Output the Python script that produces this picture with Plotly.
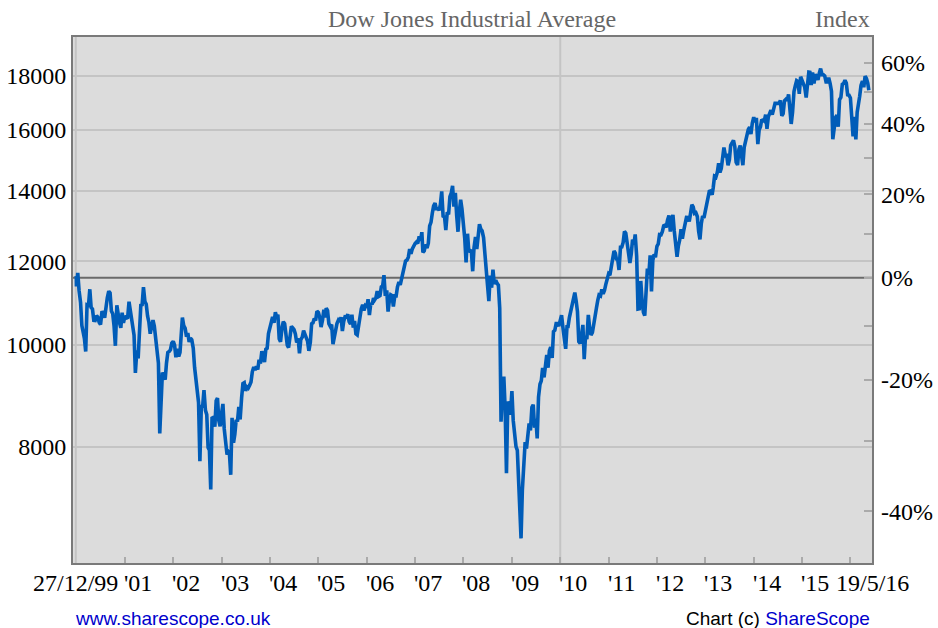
import math
import plotly.graph_objects as go

# ---------------- data ----------------
START = "1999-12-27"
END = "2016-05-19"
BASE = 11575  # value the right-hand % scale is measured from

pre_dates = ["1999-12-27", "1999-12-31"]
pre_values = [11575, 11600]

DAYS = [1, 11, 21]  # three readings per month

dj_2000 = [11357, 11700, 11251, 10970, 10425, 10305, 10137, 9850, 10907, 10894, 11287, 10844,
           10811, 10545, 10542, 10652, 10614, 10497, 10447, 10727, 10733, 10606, 10908, 11079,
           11238, 11195, 10765, 10700, 10413, 9975, 10899, 10602, 10494, 10373, 10725, 10487]
dj_2001 = [10646, 10610, 10587, 10983, 10781, 10526, 10450, 10208, 9400, 9878, 9703, 10579,
           10898, 10910, 11337, 10990, 10922, 10647, 10502, 10241, 10424, 10551, 10416, 10174,
           9950, 9606, 8236, 8848, 9410, 9340, 9263, 9608, 9830, 9851, 9890, 10035]
dj_2002 = [10073, 9987, 9730, 9907, 9744, 9834, 10368, 10611, 10427, 10362, 10176, 10257,
           10059, 10141, 10105, 9925, 9517, 9253, 9007, 8813, 7750, 8736, 8743, 9053,
           8663, 8582, 7986, 7938, 7286, 8538, 8517, 8358, 8845, 8896, 8473, 8364]
dj_2003 = [8607, 8785, 8318, 8053, 7864, 7914, 7891, 7524, 8521, 8069, 8221, 8485,
           8454, 8726, 8491, 8897, 9183, 9200, 9040, 9119, 9096, 9153, 9217, 9423,
           9523, 9459, 9535, 9469, 9674, 9598, 9858, 9738, 9629, 9899, 9921, 10245]
dj_2004 = [10409, 10485, 10623, 10488, 10737, 10619, 10678, 10128, 10064, 10373, 10515, 10472,
           10225, 9990, 9937, 10202, 10410, 10372, 10334, 10238, 10046, 10139, 9814, 10110,
           10168, 10313, 10244, 10192, 10077, 9866, 10054, 10469, 10489, 10590, 10543, 10759]
dj_2005 = [10729, 10617, 10392, 10551, 10796, 10611, 10830, 10774, 10470, 10404, 10448, 10012,
           10192, 10281, 10471, 10549, 10512, 10619, 10303, 10519, 10627, 10623, 10685, 10519,
           10459, 10678, 10378, 10535, 10238, 10215, 10406, 10686, 10821, 10912, 10778, 10883]
dj_2006 = [10847, 11043, 10668, 10953, 10919, 11069, 11025, 11076, 11240, 11109, 11129, 11347,
           11367, 11640, 11128, 11260, 10750, 11020, 11150, 11130, 10869, 11125, 11124, 11345,
           11464, 11397, 11533, 11679, 11858, 12002, 12031, 12108, 12321, 12194, 12328, 12421]
dj_2007 = [12474, 12514, 12477, 12673, 12552, 12786, 12234, 12276, 12447, 12354, 12484, 12961,
           13063, 13327, 13542, 13628, 13424, 13489, 13409, 13577, 13980, 13212, 13240, 12845,
           13358, 13291, 13820, 13930, 14150, 13522, 13931, 13266, 12799, 13371, 13727, 13450]
dj_2008 = [13044, 12606, 11971, 12743, 12240, 12284, 12266, 11740, 12361, 12654, 12325, 12825,
           13010, 12876, 12825, 12638, 12084, 11843, 11382, 11000, 11632, 11326, 11782, 11417,
           11516, 11434, 11388, 10831, 8451, 9033, 9325, 8693, 7552, 8829, 8761, 8579]
dj_2009 = [9034, 8474, 8228, 8001, 7939, 7365, 7063, 6547, 7278, 7609, 8083, 7969,
           8212, 8418, 8292, 8721, 8770, 8339, 8504, 8146, 8916, 9171, 9242, 9505,
           9310, 9605, 9778, 9509, 9865, 9949, 9713, 10291, 10318, 10471, 10471, 10414]
dj_2010 = [10583, 10663, 10389, 10185, 9908, 10402, 10404, 10611, 10741, 10927, 11005, 11205,
           11009, 10748, 10068, 10024, 10211, 10442, 9686, 10198, 10120, 10674, 10378, 10213,
           10270, 10462, 10762, 10829, 11010, 11146, 11125, 11283, 11178, 11255, 11410, 11533]
dj_2011 = [11671, 11638, 11871, 12040, 12273, 12212, 12058, 12044, 11774, 12376, 12381, 12505,
           12807, 12760, 12512, 12290, 11952, 12190, 12582, 12446, 12724, 12132, 10810, 10817,
           11493, 10992, 10733, 10655, 11416, 11808, 11657, 12153, 11231, 12020, 12184, 12107]
dj_2012 = [12397, 12462, 12720, 12716, 12801, 12966, 12980, 12922, 13125, 13264, 12805, 13030,
           13280, 12820, 12504, 12119, 12411, 12574, 12871, 12604, 12822, 12976, 13207, 13203,
           13090, 13323, 13579, 13515, 13326, 13345, 13232, 12815, 12588, 13025, 13248, 13190]
dj_2013 = [13412, 13488, 13712, 14009, 13971, 13880, 14089, 14447, 14421, 14572, 14865, 14567,
           14700, 15118, 15388, 15115, 15122, 14799, 14974, 15460, 15545, 15628, 15419, 14897,
           14810, 15326, 15451, 15191, 14802, 15392, 15615, 15783, 16009, 16086, 15843, 16221]
dj_2014 = [16441, 16257, 16415, 15500, 15994, 16103, 16322, 16340, 16302, 16532, 16027, 16449,
           16559, 16695, 16533, 16743, 16945, 16947, 16956, 16944, 17052, 16493, 16570, 17039,
           17098, 17050, 17280, 16804, 16200, 16615, 17391, 17614, 17810, 17776, 17300, 17959]
dj_2015 = [17832, 17640, 17554, 17165, 17868, 18140, 18133, 17636, 18127, 17698, 18057, 17950,
           17841, 18105, 18285, 18040, 18040, 17990, 17757, 17760, 17920, 17690, 17400, 15666,
           16058, 16433, 16510, 16100, 17084, 17168, 17664, 17702, 17823, 17719, 17265, 17252]
dj_2016 = [17149, 16399, 15766, 16449, 15660, 16620, 16865, 17213, 17623, 17792, 17556, 17982,
           17891, 17711]
end_value = 17435

yearly = {2000: dj_2000, 2001: dj_2001, 2002: dj_2002, 2003: dj_2003, 2004: dj_2004,
          2005: dj_2005, 2006: dj_2006, 2007: dj_2007, 2008: dj_2008, 2009: dj_2009,
          2010: dj_2010, 2011: dj_2011, 2012: dj_2012, 2013: dj_2013, 2014: dj_2014,
          2015: dj_2015, 2016: dj_2016}

left_ticks = [8000, 10000, 12000, 14000, 16000, 18000]
pct_ticks = [-40, -30, -20, -10, 0, 10, 20, 30, 40, 50, 60]
pct_labelled = [-40, -20, 0, 20, 40, 60]
year_ticks = list(range(2001, 2017))
year_labels = ["'01", "'02", "'03", "'04", "'05", "'06", "'07", "'08", "'09", "'10",
               "'11", "'12", "'13", "'14", "'15", ""]
start_label = "27/12/99"
end_label = "19/5/16"
grid_dates = [START, "2010-01-01"]

# ---------------- build series ----------------
dates = list(pre_dates)
values = list(pre_values)
for yr, vals in yearly.items():
    for i, v in enumerate(vals):
        dates.append(f"{yr}-{i // 3 + 1:02d}-{DAYS[i % 3]:02d}")
        values.append(v)
dates.append(END)
values.append(end_value)

SERIF = "Liberation Serif, Times New Roman, serif"
SANS = "Liberation Sans, Arial, sans-serif"
LINE = "#005cb8"
GRID = "#c4c4c4"
FRAME = "#7a7a7a"

yr_lo, yr_hi = math.log10(6205), math.log10(19590)
x_range = ["1999-12-06", "2016-06-12"]

fig = go.Figure()
fig.add_trace(go.Scatter(x=dates, y=values, mode="lines",
                         line=dict(color=LINE, width=3.6), hoverinfo="x+y",
                         showlegend=False))
# invisible companion trace so the right-hand % axis is drawn
fig.add_trace(go.Scatter(x=dates, y=values, yaxis="y2", mode="lines",
                         line=dict(color="rgba(0,0,0,0)", width=0), hoverinfo="skip",
                         showlegend=False))

fig.update_layout(
    width=938, height=628,
    margin=dict(l=73, r=66, t=37, b=65, autoexpand=False),
    paper_bgcolor="white", plot_bgcolor="#dcdcdc",
    showlegend=False,
    xaxis=dict(type="date", range=x_range, automargin=False,
               tickvals=[f"{y}-01-01" for y in year_ticks],
               showticklabels=False, ticks="inside", ticklen=6, tickwidth=1.5,
               tickcolor="#aaaaaa", showgrid=False, zeroline=False,
               showline=True, linecolor=FRAME, linewidth=2, mirror=True),
    yaxis=dict(type="log", range=[yr_lo, yr_hi], tickvals=left_ticks, automargin=False,
               ticktext=[str(v) for v in left_ticks],
               tickfont=dict(family=SERIF, size=24, color="black"),
               showgrid=True, gridcolor=GRID, gridwidth=2, ticks="",
               ticklabelstandoff=0,
               showline=True, linecolor=FRAME, linewidth=2, mirror=True,
               zeroline=False),
    yaxis2=dict(type="log", range=[yr_lo, yr_hi], overlaying="y", side="right",
                automargin=False,
                tickvals=[BASE * (1 + p / 100) for p in pct_ticks],
                ticktext=[f"{p}%" if p in pct_labelled else "" for p in pct_ticks],
                tickfont=dict(family=SERIF, size=24, color="black"),
                ticks="inside", ticklen=8, tickwidth=1.5, tickcolor="#aaaaaa",
                ticklabelstandoff=8,
                showgrid=False, zeroline=False, showline=False),
)

shapes = []
for gd in grid_dates:
    shapes.append(dict(type="line", xref="x", yref="paper", x0=gd, x1=gd, y0=0, y1=1,
                       line=dict(color=GRID, width=2), layer="below"))
shapes.append(dict(type="line", xref="paper", yref="y", x0=0, x1=1, y0=BASE, y1=BASE,
                   line=dict(color="#6a6a6a", width=2), layer="below"))
fig.update_layout(shapes=shapes)

ann = []
for y, lab in zip(year_ticks, year_labels):
    if lab:
        ann.append(dict(x=f"{y}-01-01", y=0, xref="x", yref="paper", text=lab,
                        xanchor="left", yanchor="top", yshift=-5, xshift=-3, showarrow=False,
                        font=dict(family=SERIF, size=24, color="black")))
ann.append(dict(x=START, y=0, xref="x", yref="paper", text=start_label,
                xanchor="center", yanchor="top", yshift=-5, showarrow=False,
                font=dict(family=SERIF, size=24, color="black")))
ann.append(dict(x=1, y=0, xref="paper", yref="paper", text=end_label,
                xanchor="center", yanchor="top", yshift=-5, showarrow=False,
                font=dict(family=SERIF, size=24, color="black")))
ann.append(dict(x=0.499, y=1, xref="paper", yref="paper", text="Dow Jones Industrial Average",
                xanchor="center", yanchor="bottom", yshift=3, showarrow=False,
                font=dict(family=SERIF, size=24, color="#666666")))
ann.append(dict(x=1, y=1, xref="paper", yref="paper", text="Index",
                xanchor="right", yanchor="bottom", yshift=3, showarrow=False,
                font=dict(family=SERIF, size=24, color="#666666")))
ann.append(dict(x=0, y=0, xref="paper", yref="paper", text="www.sharescope.co.uk",
                xanchor="left", yanchor="middle", yshift=-55, xshift=0, showarrow=False,
                font=dict(family=SANS, size=19, color="#0000cc")))
ann.append(dict(x=1, y=0, xref="paper", yref="paper",
                text="Chart (c) <span style='color:#0000cc'>ShareScope</span>",
                xanchor="right", yanchor="middle", yshift=-55, xshift=0, showarrow=False,
                font=dict(family=SANS, size=19, color="black")))
fig.update_layout(annotations=ann)

fig.write_html("out.html", config={"displayModeBar": False},
               post_script="document.body.style.margin='0';document.body.style.overflow='hidden';")
